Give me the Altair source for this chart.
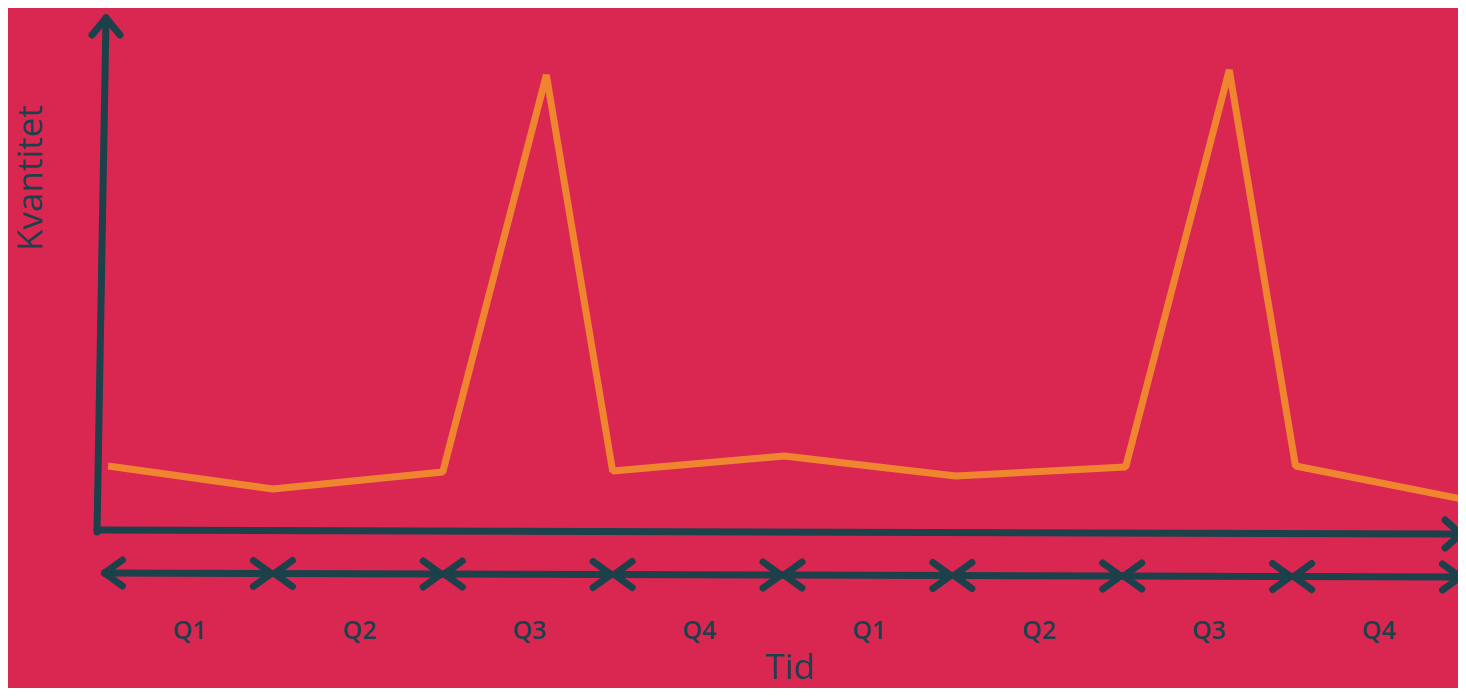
import altair as alt
import pandas as pd

# ---- data ----
quarter_labels = ["Q1", "Q2", "Q3", "Q4", "Q1", "Q2", "Q3", "Q4"]
time_pos = [0.03, 1.0, 2.0, 2.61, 3.0, 4.01, 5.02, 6.02, 6.63, 7.02, 8.0]   # in quarters
quantity = [64, 41, 58, 455, 59, 74, 54, 63, 460, 64, 31]
x_title = "Tid"
y_title = "Kvantitet"

BG = "#DA2752"
TEAL = "#1C414B"
ORANGE = "#F0852F"
FONT = "Open Sans"

W, H = 1450, 680
# layout helpers (page pixel -> data units)
Q = 169.875
X0 = 103.0
Y0 = 530.0
def qx(px):
    return (px - X0) / Q
def vy(py):
    return Y0 - py

xs = alt.Scale(domain=[qx(8), qx(8 + W)], nice=False, zero=False)
ys = alt.Scale(domain=[vy(8 + H), vy(8)], nice=False, zero=False)

line_df = pd.DataFrame({"t": time_pos, "v": quantity})

# axis + arrow segments
segs = []
def seg(a, b):
    segs.append({"x": a[0], "y": a[1], "x2": b[0], "y2": b[1]})

ytip = (qx(106), vy(18))
seg((qx(97), vy(532)), ytip)
seg((qx(92), vy(35)), ytip)
seg((qx(120), vy(35)), ytip)
xtip = (qx(1461), vy(534))
seg((qx(97), vy(530)), xtip)
seg((qx(1445), vy(520)), xtip)
seg((qx(1445), vy(548)), xtip)

arm = 18 / Q
n = len(quarter_labels)
for i in range(n):
    ya = vy(573 + 4 * i / n)
    yb = vy(573 + 4 * (i + 1) / n)
    x_left = i + 1.5 / Q
    x_right = i + 1 - 1.5 / Q
    seg((x_left, ya), (x_right, yb))
    seg((x_left + arm, ya + 13), (x_left, ya))
    seg((x_left + arm, ya - 13), (x_left, ya))
    seg((x_right - arm, yb + 13), (x_right, yb))
    seg((x_right - arm, yb - 13), (x_right, yb))
seg_df = pd.DataFrame(segs)

qlab_df = pd.DataFrame({
    "label": quarter_labels,
    "x": [i + 0.51 for i in range(n)],
    "y": [vy(639)] * n,
})
xt_df = pd.DataFrame({"label": [x_title], "x": [qx(790)], "y": [vy(679)]})
yt_df = pd.DataFrame({"label": [y_title], "x": [qx(31)], "y": [vy(178)]})

rules = alt.Chart(seg_df).mark_rule(
    color=TEAL, strokeWidth=7, strokeCap="round"
).encode(
    x=alt.X("x:Q", scale=xs, axis=None),
    y=alt.Y("y:Q", scale=ys, axis=None),
    x2="x2:Q",
    y2="y2:Q",
)

line = alt.Chart(line_df).mark_line(
    color=ORANGE, strokeWidth=7, strokeJoin="bevel", strokeCap="butt"
).encode(
    x=alt.X("t:Q", scale=xs, axis=None),
    y=alt.Y("v:Q", scale=ys, axis=None),
)

qtext = alt.Chart(qlab_df).mark_text(
    font=FONT, fontSize=25, fontWeight=600, color=TEAL, align="center", baseline="alphabetic"
).encode(
    x=alt.X("x:Q", scale=xs, axis=None),
    y=alt.Y("y:Q", scale=ys, axis=None),
    text="label:N",
)

xtext = alt.Chart(xt_df).mark_text(
    font=FONT, fontSize=35, color=TEAL, align="center", baseline="alphabetic"
).encode(
    x=alt.X("x:Q", scale=xs, axis=None),
    y=alt.Y("y:Q", scale=ys, axis=None),
    text="label:N",
)

ytext = alt.Chart(yt_df).mark_text(
    font=FONT, fontSize=35, color=TEAL, align="center", baseline="middle", angle=270
).encode(
    x=alt.X("x:Q", scale=xs, axis=None),
    y=alt.Y("y:Q", scale=ys, axis=None),
    text="label:N",
)

chart = alt.layer(line, rules, qtext, xtext, ytext).properties(
    width=W, height=H, padding=0,
    autosize=alt.AutoSizeParams(type="none"),
    background=BG,
).configure_view(stroke=None)

chart.save("out.html", embed_options={"renderer": "svg", "actions": False})
